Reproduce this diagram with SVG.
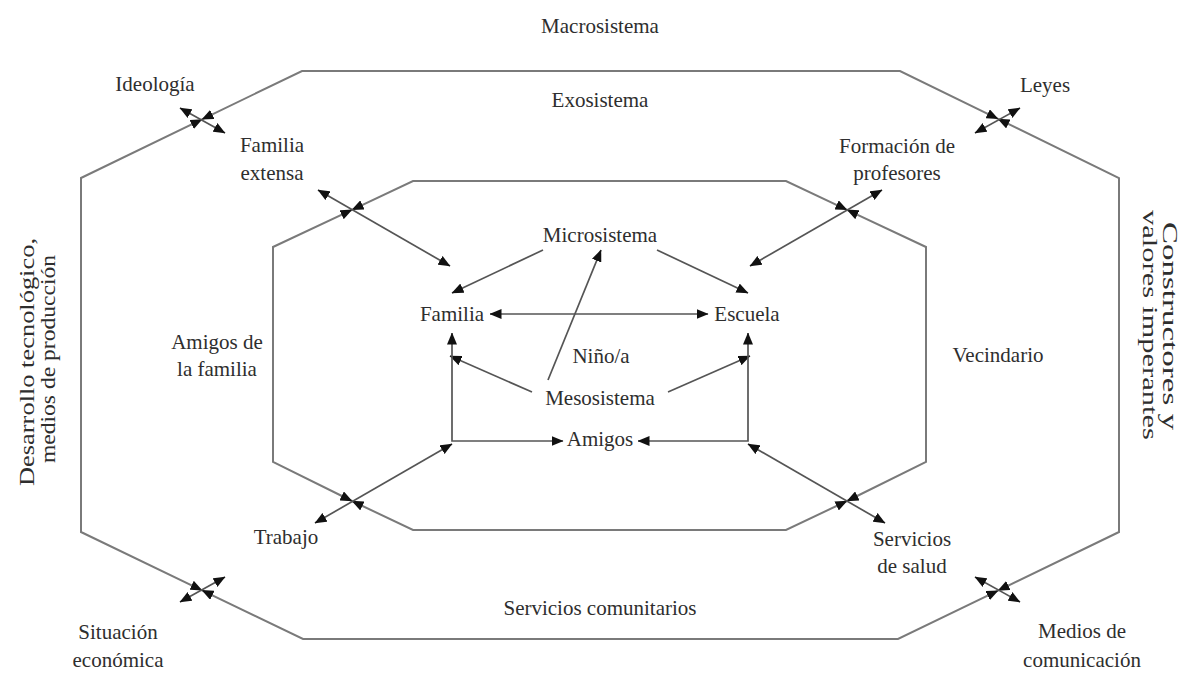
<svg xmlns="http://www.w3.org/2000/svg" width="1184" height="681" viewBox="0 0 1184 681">
<defs>
<marker id="ah" viewBox="0 0 12 10" refX="11.5" refY="5" markerWidth="12" markerHeight="10" markerUnits="userSpaceOnUse" orient="auto-start-reverse"><path d="M0,0 L12,5 L0,10 Z" fill="#111"/></marker>
</defs>
<style>
text{font-family:"Liberation Serif","Times New Roman",serif;font-size:21px;fill:#2e2e2e;text-anchor:middle}
.ring{fill:none;stroke:#7a7a7a;stroke-width:2}
.c{fill:none;stroke:#555;stroke-width:1.7}
.a2{marker-start:url(#ah);marker-end:url(#ah)}
.a1{marker-end:url(#ah)}
</style>
<rect width="1184" height="681" fill="#fff"/>
<g id="rings">
<path class="ring a2" d="M202,119.4 L302,71 H900 L998,118.9"/>
<path class="ring a2" d="M998,118.9 L1119,178 V532 L998,590.6"/>
<path class="ring a2" d="M998,590.6 L898,639 H303 L202,590.3"/>
<path class="ring a2" d="M202,590.3 L81,532 V178 L202,119.4"/>
<path class="ring a2" d="M352,209.8 L413,181 H786 L847,209.8"/>
<path class="ring a2" d="M847,209.8 L926,247 V462 L847,501"/>
<path class="ring a2" d="M847,501 L786,530 H413 L352,501"/>
<path class="ring a2" d="M352,501 L273,462 V247 L352,209.8"/>
</g>
<g id="connectors">
<path class="c a2" d="M180,108 L225,133"/>
<path class="c a2" d="M1020,108 L975,133"/>
<path class="c a2" d="M180,602 L225,577"/>
<path class="c a2" d="M1020,602 L975,577"/>
<path class="c a2" d="M318,190 L450,266"/>
<path class="c a2" d="M882,190 L750,266"/>
<path class="c a2" d="M315,523 L452,444"/>
<path class="c a2" d="M885,523 L748,444"/>
<path class="c a1" d="M543,250 L452,293"/>
<path class="c a1" d="M657,250 L748,293"/>
<path class="c a2" d="M490,314 H708"/>
<path class="c a1" d="M548,380 L601,250"/>
<path class="c a1" d="M532,392 L450,356"/>
<path class="c a1" d="M668,392 L750,356"/>
<path class="c a2" d="M452,333 V441 H563"/>
<path class="c a2" d="M748,333 V441 H638"/>
</g>
<g id="macrosistema"><text x="600" y="33">Macrosistema</text></g>
<g id="exosistema"><text x="600" y="107">Exosistema</text></g>
<g id="ideologia"><text x="155" y="91">Ideología</text></g>
<g id="leyes"><text x="1045" y="92">Leyes</text></g>
<g id="familia-extensa"><text x="272" y="152">Familia</text><text x="272" y="180">extensa</text></g>
<g id="formacion-profesores"><text x="897" y="153">Formación de</text><text x="897" y="180">profesores</text></g>
<g id="microsistema"><text x="600" y="242">Microsistema</text></g>
<g id="familia"><text x="452" y="321">Familia</text></g>
<g id="escuela"><text x="747" y="321">Escuela</text></g>
<g id="amigos-familia"><text x="217" y="349">Amigos de</text><text x="217" y="376">la familia</text></g>
<g id="nino"><text x="601" y="363">Niño/a</text></g>
<g id="vecindario"><text x="998" y="362">Vecindario</text></g>
<g id="mesosistema"><text x="600" y="405">Mesosistema</text></g>
<g id="amigos"><text x="600" y="446">Amigos</text></g>
<g id="trabajo"><text x="286" y="544">Trabajo</text></g>
<g id="servicios-salud"><text x="912" y="546">Servicios</text><text x="912" y="573">de salud</text></g>
<g id="servicios-comunitarios"><text x="600" y="615">Servicios comunitarios</text></g>
<g id="situacion-economica"><text x="118" y="639">Situación</text><text x="118" y="667">económica</text></g>
<g id="medios-comunicacion"><text x="1082" y="638">Medios de</text><text x="1082" y="667">comunicación</text></g>
<g id="desarrollo-tecnologico">
<text transform="translate(34,362) rotate(-90)" textLength="248" lengthAdjust="spacingAndGlyphs">Desarrollo tecnológico,</text>
<text transform="translate(55,359) rotate(-90)" textLength="208" lengthAdjust="spacingAndGlyphs">medios de producción</text>
</g>
<g id="constructores-valores">
<text transform="translate(1163,326) rotate(90)" textLength="208" lengthAdjust="spacingAndGlyphs">Constructores y</text>
<text transform="translate(1143,325) rotate(90)" textLength="230" lengthAdjust="spacingAndGlyphs">valores imperantes</text>
</g>
</svg>
